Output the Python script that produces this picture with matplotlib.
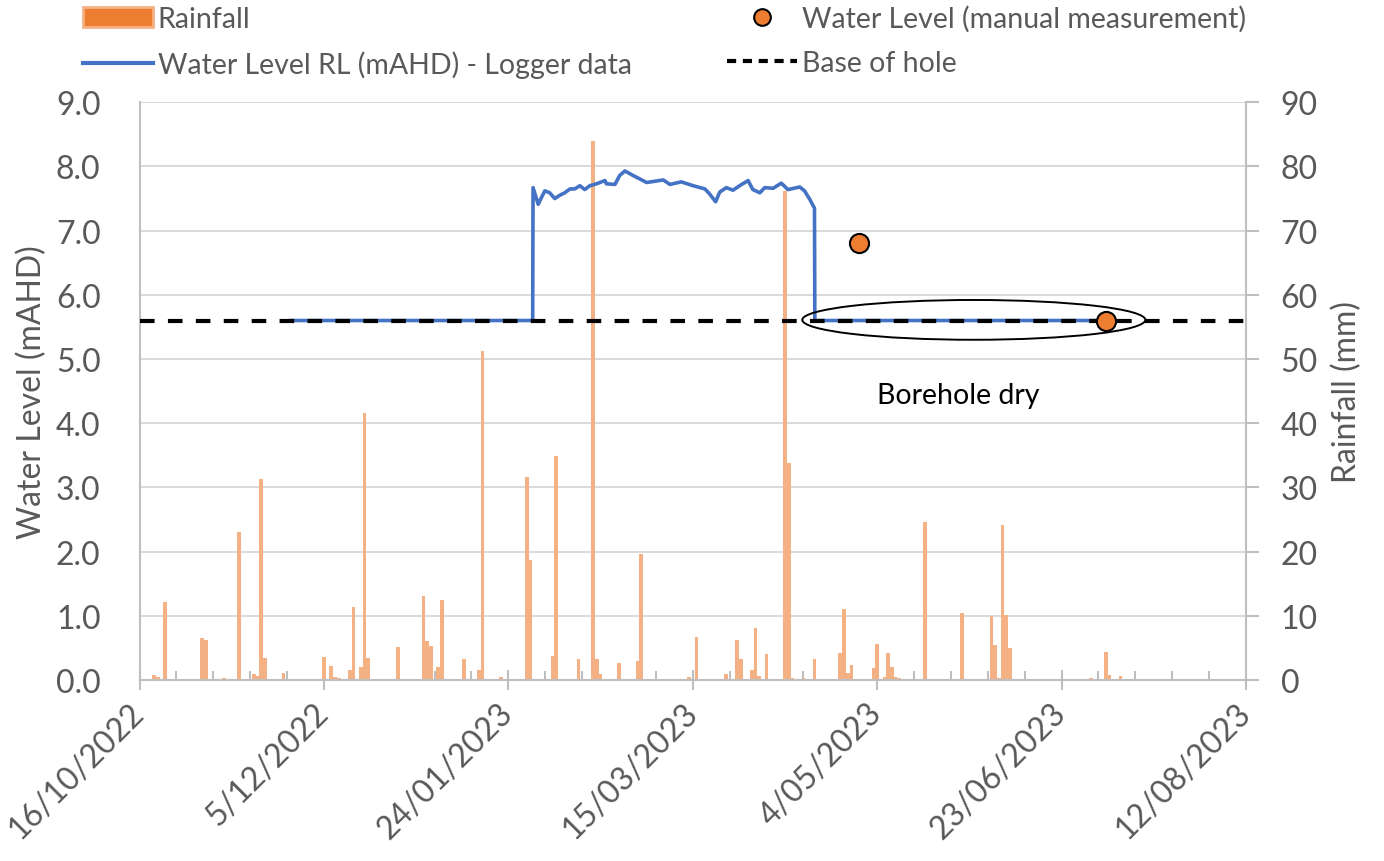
import numpy as np
import matplotlib
matplotlib.use('Agg')
import matplotlib.pyplot as plt
import matplotlib.dates as mdates
from matplotlib.patches import Ellipse, Patch
from matplotlib.lines import Line2D
from matplotlib.ticker import FixedLocator, FuncFormatter

plt.rcParams['font.family'] = ['Lato', 'DejaVu Sans']

# ---------------- data ----------------
START = '2022-10-16'
END = '2023-08-12'

rain_dates = [
    '2022-10-20', '2022-10-21', '2022-10-23', '2022-11-02', '2022-11-03', '2022-11-08',
    '2022-11-12', '2022-11-16', '2022-11-17', '2022-11-18', '2022-11-19', '2022-11-24',
    '2022-12-05', '2022-12-07', '2022-12-08', '2022-12-09', '2022-12-12', '2022-12-13',
    '2022-12-15', '2022-12-16', '2022-12-17', '2022-12-25', '2023-01-01', '2023-01-02',
    '2023-01-03', '2023-01-05', '2023-01-06', '2023-01-12', '2023-01-16', '2023-01-17',
    '2023-01-22', '2023-01-29', '2023-01-30', '2023-02-05', '2023-02-06', '2023-02-12',
    '2023-02-16', '2023-02-17', '2023-02-18', '2023-02-23', '2023-02-28', '2023-03-01',
    '2023-03-14', '2023-03-16', '2023-03-24', '2023-03-27', '2023-03-28', '2023-03-31',
    '2023-04-01', '2023-04-02', '2023-04-04', '2023-04-09', '2023-04-10', '2023-04-11',
    '2023-04-14', '2023-04-17', '2023-04-24', '2023-04-25', '2023-04-26', '2023-04-27',
    '2023-05-03', '2023-05-04', '2023-05-06', '2023-05-07', '2023-05-08', '2023-05-09',
    '2023-05-10', '2023-05-17', '2023-05-27', '2023-06-04', '2023-06-05', '2023-06-06',
    '2023-06-07', '2023-06-08', '2023-06-09', '2023-07-01', '2023-07-05', '2023-07-06',
    '2023-07-09', '2023-07-14',
]
rain_mm = [
    0.8, 0.5, 12.2, 6.5, 6.3, 0.3,
    23.1, 1.0, 0.6, 31.3, 3.4, 1.1,
    3.6, 2.2, 0.5, 0.3, 1.6, 11.3,
    2.0, 41.6, 3.4, 5.1, 13.1, 6.1,
    5.3, 2.0, 12.5, 3.2, 1.6, 51.2,
    0.5, 31.6, 18.7, 3.7, 34.9, 3.2,
    84.0, 3.3, 1.0, 2.6, 3.0, 19.6,
    0.5, 6.7, 1.0, 6.3, 3.2, 1.6,
    8.1, 0.6, 4.0, 76.1, 33.8, 0.3,
    0.3, 3.2, 4.2, 11.1, 1.1, 2.4,
    1.8, 5.6, 0.5, 4.2, 2.0, 0.5,
    0.3, 24.6, 10.5, 9.9, 5.4, 0.3,
    24.1, 10.2, 5.0, 0.3, 4.4, 0.8,
    0.6, 0.2,
]

# logger record, days since START
logger_days = [
    41.0, 106.6, 106.7, 108.1, 108.5, 109.9, 111.2, 112.6, 113.9, 115.3, 116.7,
    118.0, 119.4, 120.7, 122.1, 123.9, 126.2, 126.6, 128.9, 130.2, 131.6, 133.8,
    137.5, 142.0, 143.8, 146.9, 150.1, 153.3, 154.6, 156.2, 157.3, 159.1, 160.9,
    162.7, 165.0, 166.3, 168.2, 169.5, 171.8, 174.0, 175.8, 179.0, 180.3, 181.7,
    183.0, 183.1, 261.5,
]
logger_level = [
    5.60, 5.60, 7.67, 7.41, 7.46, 7.62, 7.59, 7.50, 7.55, 7.59, 7.65,
    7.65, 7.70, 7.64, 7.70, 7.73, 7.78, 7.73, 7.72, 7.86, 7.93, 7.86,
    7.75, 7.79, 7.72, 7.76, 7.70, 7.65, 7.57, 7.45, 7.60, 7.67, 7.63,
    7.70, 7.78, 7.64, 7.59, 7.67, 7.66, 7.74, 7.64, 7.68, 7.62, 7.49,
    7.35, 5.60, 5.60,
]

manual_dates = ['2023-04-29', '2023-07-05']
manual_level = [6.8, 5.6]

base_of_hole = 5.6

# ---------------- plot ----------------
GREY_TXT = '#595959'
GREY_AX = '#BFBFBF'

t0 = mdates.datestr2num(START)
t1 = mdates.datestr2num(END)
rain_x = mdates.datestr2num(rain_dates)
logger_x = t0 + np.array(logger_days)
manual_x = mdates.datestr2num(manual_dates)

fig = plt.figure(figsize=(13.84, 8.62), dpi=100)
rect = [0.1008, 0.21, 0.7995, 0.6702]
ax_r = fig.add_axes(rect)
ax_l = fig.add_axes(rect, sharex=ax_r)
ax_l.patch.set_visible(False)

# rainfall (right axis, behind)
ax_r.bar(rain_x, rain_mm, width=1.0, color='#F4B183', zorder=2)
ax_r.set_ylim(0, 90)
ax_r.set_yticks(np.arange(0, 91, 10))
ax_r.yaxis.tick_right()
ax_r.yaxis.set_label_position('right')
ax_r.grid(axis='y', color='#D9D9D9', lw=1.4, zorder=0)
ax_r.set_axisbelow(True)
ax_r.set_ylabel('Rainfall (mm)', fontsize=23, color=GREY_TXT, labelpad=10)
ax_r.tick_params(axis='y', direction='out', length=9, width=1.5, color=GREY_AX,
                 labelsize=23, labelcolor=GREY_TXT, pad=16)

ax_r.set_xlim(t0, t1)
major = np.arange(t0, t1 + 1, 50)
ax_r.xaxis.set_major_locator(FixedLocator(major))
ax_r.xaxis.set_minor_locator(FixedLocator(np.arange(t0, t1 + 1, 10)))
ax_r.xaxis.set_major_formatter(FuncFormatter(
    lambda v, p: f"{mdates.num2date(v).day}/{mdates.num2date(v).month:02d}/{mdates.num2date(v).year}"))
ax_r.tick_params(axis='x', which='major', direction='inout', length=14, width=1.5,
                 color=GREY_AX, labelsize=23, labelcolor=GREY_TXT, pad=13)
ax_r.tick_params(axis='x', which='minor', direction='in', length=6.5, width=1.5, color=GREY_AX)
for lab in ax_r.get_xticklabels():
    lab.set_rotation(45)
    lab.set_ha('right')
    lab.set_va('center')
    lab.set_rotation_mode('anchor')

for s in ['top', 'left']:
    ax_r.spines[s].set_visible(False)
for s in ['right', 'bottom']:
    ax_r.spines[s].set_color(GREY_AX)
    ax_r.spines[s].set_linewidth(1.5)

# water levels (left axis, on top)
ax_l.plot(logger_x, logger_level, color='#4472C4', lw=2.6, zorder=3)
ax_l.plot([t0, t1], [base_of_hole, base_of_hole], color='black', lw=3,
          dashes=(3.5, 3.2), zorder=4)
ax_l.scatter(manual_x, manual_level, s=190, color='#ED7D31', edgecolor='black',
             linewidth=1.5, zorder=5)
ell = Ellipse((t0 + 226.2, 5.61), width=93, height=0.62, fill=False,
              edgecolor='black', lw=1.4, zorder=6)
ax_l.add_patch(ell)
ax_l.text(mdates.datestr2num('2023-05-04'), 4.44, 'Borehole dry', fontsize=20.5,
          color='black', va='center', ha='left')

ax_l.set_ylim(0, 9)
ax_l.set_yticks(np.arange(0, 9.1, 1.0))
ax_l.yaxis.set_major_formatter(FuncFormatter(lambda v, p: f"{v:.1f}"))
ax_l.tick_params(axis='y', length=0, labelsize=23, labelcolor=GREY_TXT, pad=28)
ax_l.tick_params(axis='x', which='both', bottom=False, labelbottom=False)
ax_l.set_ylabel('Water Level (mAHD)', fontsize=23, color=GREY_TXT, labelpad=6)
for s in ['top', 'right', 'bottom']:
    ax_l.spines[s].set_visible(False)
ax_l.spines['left'].set_color(GREY_AX)
ax_l.spines['left'].set_linewidth(1.5)

# legend
handles = [
    Patch(facecolor='#ED7D31', edgecolor='#F4B183', lw=2),
    Line2D([], [], color='#4472C4', lw=3),
    Line2D([], [], ls='none', marker='o', markersize=12, markerfacecolor='#ED7D31',
           markeredgecolor='black', markeredgewidth=1.5),
    Line2D([], [], color='black', lw=3, dashes=(2.2, 1.6)),
]
labels = ['Rainfall', 'Water Level RL (mAHD) - Logger data',
          'Water Level (manual measurement)', 'Base of hole']
fig.legend(handles, labels, loc='upper left', bbox_to_anchor=(83 / 1384, 1 - 6 / 862),
           ncol=2, frameon=False, fontsize=20.5, labelcolor=GREY_TXT, handlelength=2.45,
           handleheight=0.75, handletextpad=0.17, columnspacing=3.35, labelspacing=0.65,
           borderpad=0, borderaxespad=0)

fig.savefig('out.png', dpi=100)
